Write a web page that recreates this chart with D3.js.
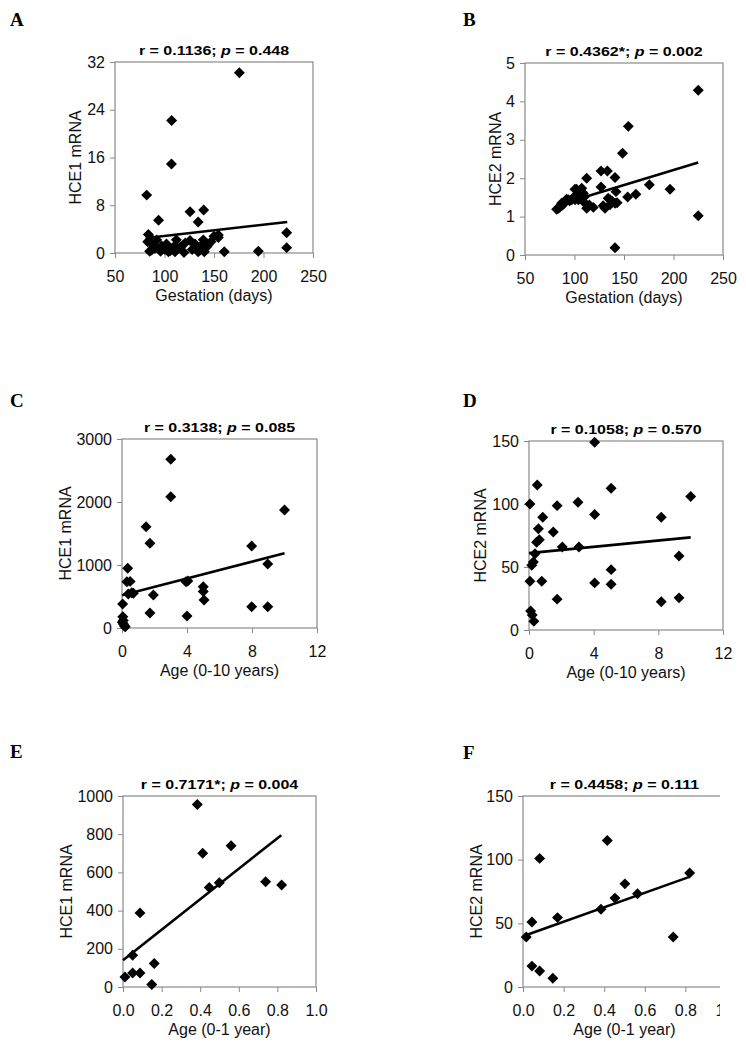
<!DOCTYPE html>
<html>
<head>
<meta charset="utf-8">
<script src="https://cdn.jsdelivr.net/npm/d3@7"></script>
<style>
body { margin: 0; background: #fff; }
text { font-family: "Liberation Sans", Arial, sans-serif; }
</style>
</head>
<body>
<svg id="fig" width="746" height="1050"></svg>
<script>
// ---- values ----
// A : HCE1 vs gestation
var gestA = [175.6, 107.2, 107, 82, 94, 125.8, 139.6, 134, 83.7, 83, 87, 92, 90.4, 100.5, 104, 109, 112, 110.6, 119.7,
             125.8, 130.8, 134, 139.2, 140.2, 137.6, 147, 154.4, 154.4, 160.4, 194.8, 223.4, 223.4, 86, 102, 116, 97,
             128, 143, 85, 88, 106, 113, 132, 136, 150, 96, 121]
var hce1A = [30.2, 22.2, 14.9, 9.7, 5.5, 6.9, 7.2, 5.2, 3.1, 1.9, 0.5, 2.2, 0.8, 0.6, 0.2, 0.95, 2.2, 0.2, 0.1,
             2.1, 1.5, 0.2, 2.2, 0.2, 1.3, 1.9, 3.0, 2.6, 0.2, 0.3, 3.4, 0.9, 2.5, 1.5, 1.0, 1.2,
             0.6, 1.1, 0.3, 1.4, 0.4, 0.7, 0.9, 0.5, 2.8, 0.3, 1.7]
// B : HCE2 vs gestation
var gestB = [154.4, 148.5, 225, 225, 140.9, 196.5, 175.6, 162, 153.7, 140.9, 133.2, 126.8, 126.8, 112.3, 141.9, 134,
             140.9, 135.9, 130.8, 135.9, 119, 112.3, 110.6, 107.3, 108.9, 100.5, 103.9, 100.5, 93.7, 90.4, 87, 85.4,
             82, 87, 97.2, 102, 105, 89, 84, 95, 99, 115, 129, 138, 143, 92, 110]
var hce2B = [3.35, 2.65, 4.29, 1.02, 0.19, 1.71, 1.83, 1.58, 1.51, 2.02, 2.19, 2.19, 1.77, 2.0, 1.65, 1.48,
             1.35, 1.31, 1.22, 1.44, 1.24, 1.22, 1.35, 1.74, 1.61, 1.71, 1.44, 1.44, 1.44, 1.39, 1.35, 1.26,
             1.19, 1.28, 1.44, 1.71, 1.55, 1.33, 1.22, 1.41, 1.5, 1.3, 1.28, 1.4, 1.36, 1.45, 1.52]
// C : HCE1 vs age (0-10 y)
var ageC = [3.0, 3.0, 10.0, 1.48, 1.72, 7.98, 8.97, 0.35, 0.3, 0.5, 0.7, 0.39, 1.93, 3.94, 4.05, 5.0, 5.0, 5.05,
            0.04, 7.98, 8.97, 1.72, 4.0, 0.05, 0.08, 0.1, 0.15, 0.02, 0.6, 0.2]
var hce1C = [2678, 2084, 1873, 1608, 1344, 1301, 1016, 947, 735, 740, 550, 540, 524, 735, 745, 656, 580, 444,
             381, 338, 338, 238, 190, 180, 120, 60, 30, 90, 560, 20]
// D : HCE2 vs age (0-10 y)
var ageD = [4.06, 0.51, 5.08, 10.0, 0.06, 1.74, 3.03, 4.06, 8.18, 0.85, 0.58, 1.5, 0.64, 0.47, 2.06, 3.09, 0.37,
            9.28, 0.27, 0.17, 5.08, 0.06, 0.79, 4.06, 5.08, 1.74, 8.18, 9.28, 0.1, 0.2, 0.3]
var hce2D = [149, 115, 112.5, 106, 100, 98.7, 101.4, 91.6, 89.5, 89.5, 80.3, 77.7, 71.6, 69.7, 65.8, 65.8, 60.5,
             58.7, 53.9, 51.3, 47.9, 38.7, 38.7, 37.4, 36.3, 24.5, 22.4, 25.5, 15, 12, 7]
// E : HCE1 vs age (0-1 y)
var ageE = [0.385, 0.413, 0.56, 0.447, 0.499, 0.739, 0.822, 0.088, 0.05, 0.162, 0.01, 0.05, 0.088, 0.149]
var hce1E = [956, 700, 740, 521, 546, 551, 534, 388, 166, 123, 52, 73, 73, 13]
// F : HCE2 vs age (0-1 y)
var ageF = [0.415, 0.082, 0.821, 0.502, 0.453, 0.564, 0.384, 0.17, 0.044, 0.016, 0.74, 0.044, 0.082, 0.147]
var hce2F = [115, 101, 89.6, 81, 69.8, 73.2, 61, 54.5, 51, 39.3, 39.3, 16.4, 12.5, 6.8]

// trend line end points [x, y]
var trendA = [[82, 2.5], [224, 5.2]]
var trendB = [[82, 1.29], [225, 2.41]]
var trendC = [[0, 520], [10, 1185]]
var trendD = [[0, 61], [10, 73.5]]
var trendE = [[0, 140], [0.82, 795]]
var trendF = [[0.01, 40.5], [0.82, 86.5]]

var rText = ["0.1136", "0.4362*", "0.3138", "0.1058", "0.7171*", "0.4458"]
var pText = ["0.448", "0.002", "0.085", "0.570", "0.004", "0.111"]
var letters = ["A", "B", "C", "D", "E", "F"]
var xLabels = ["Gestation (days)", "Gestation (days)", "Age (0-10 years)", "Age (0-10 years)", "Age (0-1 year)", "Age (0-1 year)"]
var yLabels = ["HCE1 mRNA", "HCE2 mRNA", "HCE1 mRNA", "HCE2 mRNA", "HCE1 mRNA", "HCE2 mRNA"]

var xTicksGest = [50, 100, 150, 200, 250]
var xTicksAge10 = [0, 4, 8, 12]
var xTicksAge1 = [0, 0.2, 0.4, 0.6, 0.8, 1.0]
var yTicksA = [0, 8, 16, 24, 32]
var yTicksB = [0, 1, 2, 3, 4, 5]
var yTicksC = [0, 1000, 2000, 3000]
var yTicksD = [0, 50, 100, 150]
var yTicksE = [0, 200, 400, 600, 800, 1000]
var yTicksF = [0, 50, 100, 150]

// ---- layout: plot box [left, top, right, bottom], y label x, letter pos ----
// panel F runs off the right edge of the scanned figure, so it is clipped
var panels = [
	{xs: gestA, ys: hce1A, trend: trendA, xt: xTicksGest, yt: yTicksA, box: [115, 62, 313, 253], ylx: 75, lx: 10, ly: 26, xf: d3.format("d")},
	{xs: gestB, ys: hce2B, trend: trendB, xt: xTicksGest, yt: yTicksB, box: [525, 63, 723, 255], ylx: 495, lx: 463, ly: 26, xf: d3.format("d")},
	{xs: ageC, ys: hce1C, trend: trendC, xt: xTicksAge10, yt: yTicksC, box: [122, 439, 317, 628], ylx: 65, lx: 10, ly: 407, xf: d3.format("d")},
	{xs: ageD, ys: hce2D, trend: trendD, xt: xTicksAge10, yt: yTicksD, box: [529, 441, 723, 630], ylx: 480, lx: 463, ly: 407, xf: d3.format("d")},
	{xs: ageE, ys: hce1E, trend: trendE, xt: xTicksAge1, yt: yTicksE, box: [123, 796, 316, 987], ylx: 66, lx: 10, ly: 758, xf: d3.format(".1f")},
	{xs: ageF, ys: hce2F, trend: trendF, xt: xTicksAge1, yt: yTicksF, box: [523, 796, 726, 987], ylx: 476, lx: 463, ly: 759, xf: d3.format(".1f"), clip: 720}
]

var svg = d3.select("#fig")
svg.append("rect").attr("width", 746).attr("height", 1050).style("fill", "#fff")

var diamond = d3.symbol().type(d3.symbolSquare).size(60)
var axis_grey = "#8a8a8a",
    label_size = "16px"

panels.forEach(function(pn, i) {
	var L = pn.box[0], T = pn.box[1], R = pn.box[2], B = pn.box[3]
	var x_scale = d3.scaleLinear().domain(d3.extent(pn.xt)).range([L, R]),
	    y_scale = d3.scaleLinear().domain(d3.extent(pn.yt)).range([B, T])

	var g = svg.append("g").attr("class", "panel_" + letters[i])
	if (pn.clip) {
		svg.append("clipPath").attr("id", "clip_" + i)
		  .append("rect").attr("x", 0).attr("y", 0).attr("width", pn.clip).attr("height", 1050)
		g.attr("clip-path", "url(#clip_" + i + ")")
	}

	// panel letter
	g.append("text")
	  .text(letters[i])
	  .attr("x", pn.lx).attr("y", pn.ly)
	  .style("font-family", "'Liberation Serif', 'Times New Roman', serif")
	  .style("font-weight", "bold")
	  .style("font-size", "19px")

	// axes
	var ax_y = g.append("g").attr("transform", "translate(" + L + ",0)")
	  .call(d3.axisLeft(y_scale).tickValues(pn.yt).tickSize(5).tickPadding(5).tickFormat(d3.format("d")))
	var ax_x = g.append("g").attr("transform", "translate(0," + B + ")")
	  .call(d3.axisBottom(x_scale).tickValues(pn.xt).tickSize(5).tickPadding(13).tickFormat(pn.xf))
	;[ax_y, ax_x].forEach(function(ax) {
		ax.select(".domain").remove()
		ax.selectAll("line").style("stroke", axis_grey)
		ax.selectAll("text")
		  .style("font-family", "'Liberation Sans', Arial, sans-serif")
		  .style("font-size", label_size)
		  .style("fill", "#111")
	})

	// plot box
	g.append("rect")
	  .attr("x", L).attr("y", T)
	  .attr("width", R - L).attr("height", B - T)
	  .style("fill", "none")
	  .style("stroke", axis_grey)
	  .style("stroke-width", 1.2)

	// trend line
	g.append("path")
	  .datum(pn.trend)
	  .attr("d", d3.line().x(d => x_scale(d[0])).y(d => y_scale(d[1])))
	  .style("fill", "none")
	  .style("stroke", "#000")
	  .style("stroke-width", 2.6)

	// points
	var pts = pn.xs.map((v, k) => [v, pn.ys[k]])
	g.selectAll(".pt")
	  .data(pts)
	  .enter()
	  .append("path")
	  .attr("class", "pt")
	  .attr("d", diamond)
	  .attr("transform", d => "translate(" + x_scale(d[0]) + "," + y_scale(d[1]) + ") rotate(45)")
	  .style("fill", "#000")

	// title  r = ...; p = ...
	var title = g.append("text")
	  .attr("text-anchor", "middle")
	  .attr("transform", "translate(" + ((L + R) / 2) + "," + (T - 7) + ") scale(1.27,1)")
	  .style("font-weight", "bold")
	  .style("font-size", "12.6px")
	title.append("tspan").text("r = " + rText[i] + "; ")
	title.append("tspan").text("p").style("font-style", "italic")
	title.append("tspan").text(" = " + pText[i])

	// axis labels
	g.append("text")
	  .text(xLabels[i])
	  .attr("x", (L + R) / 2).attr("y", B + 48)
	  .attr("text-anchor", "middle")
	  .style("font-size", label_size)
	  .style("fill", "#111")
	g.append("text")
	  .text(yLabels[i])
	  .attr("transform", "translate(" + pn.ylx + "," + ((T + B) / 2) + ") rotate(-90)")
	  .attr("text-anchor", "middle")
	  .attr("dy", "0.35em")
	  .style("font-size", label_size)
	  .style("fill", "#111")
})
</script>
</body>
</html>
